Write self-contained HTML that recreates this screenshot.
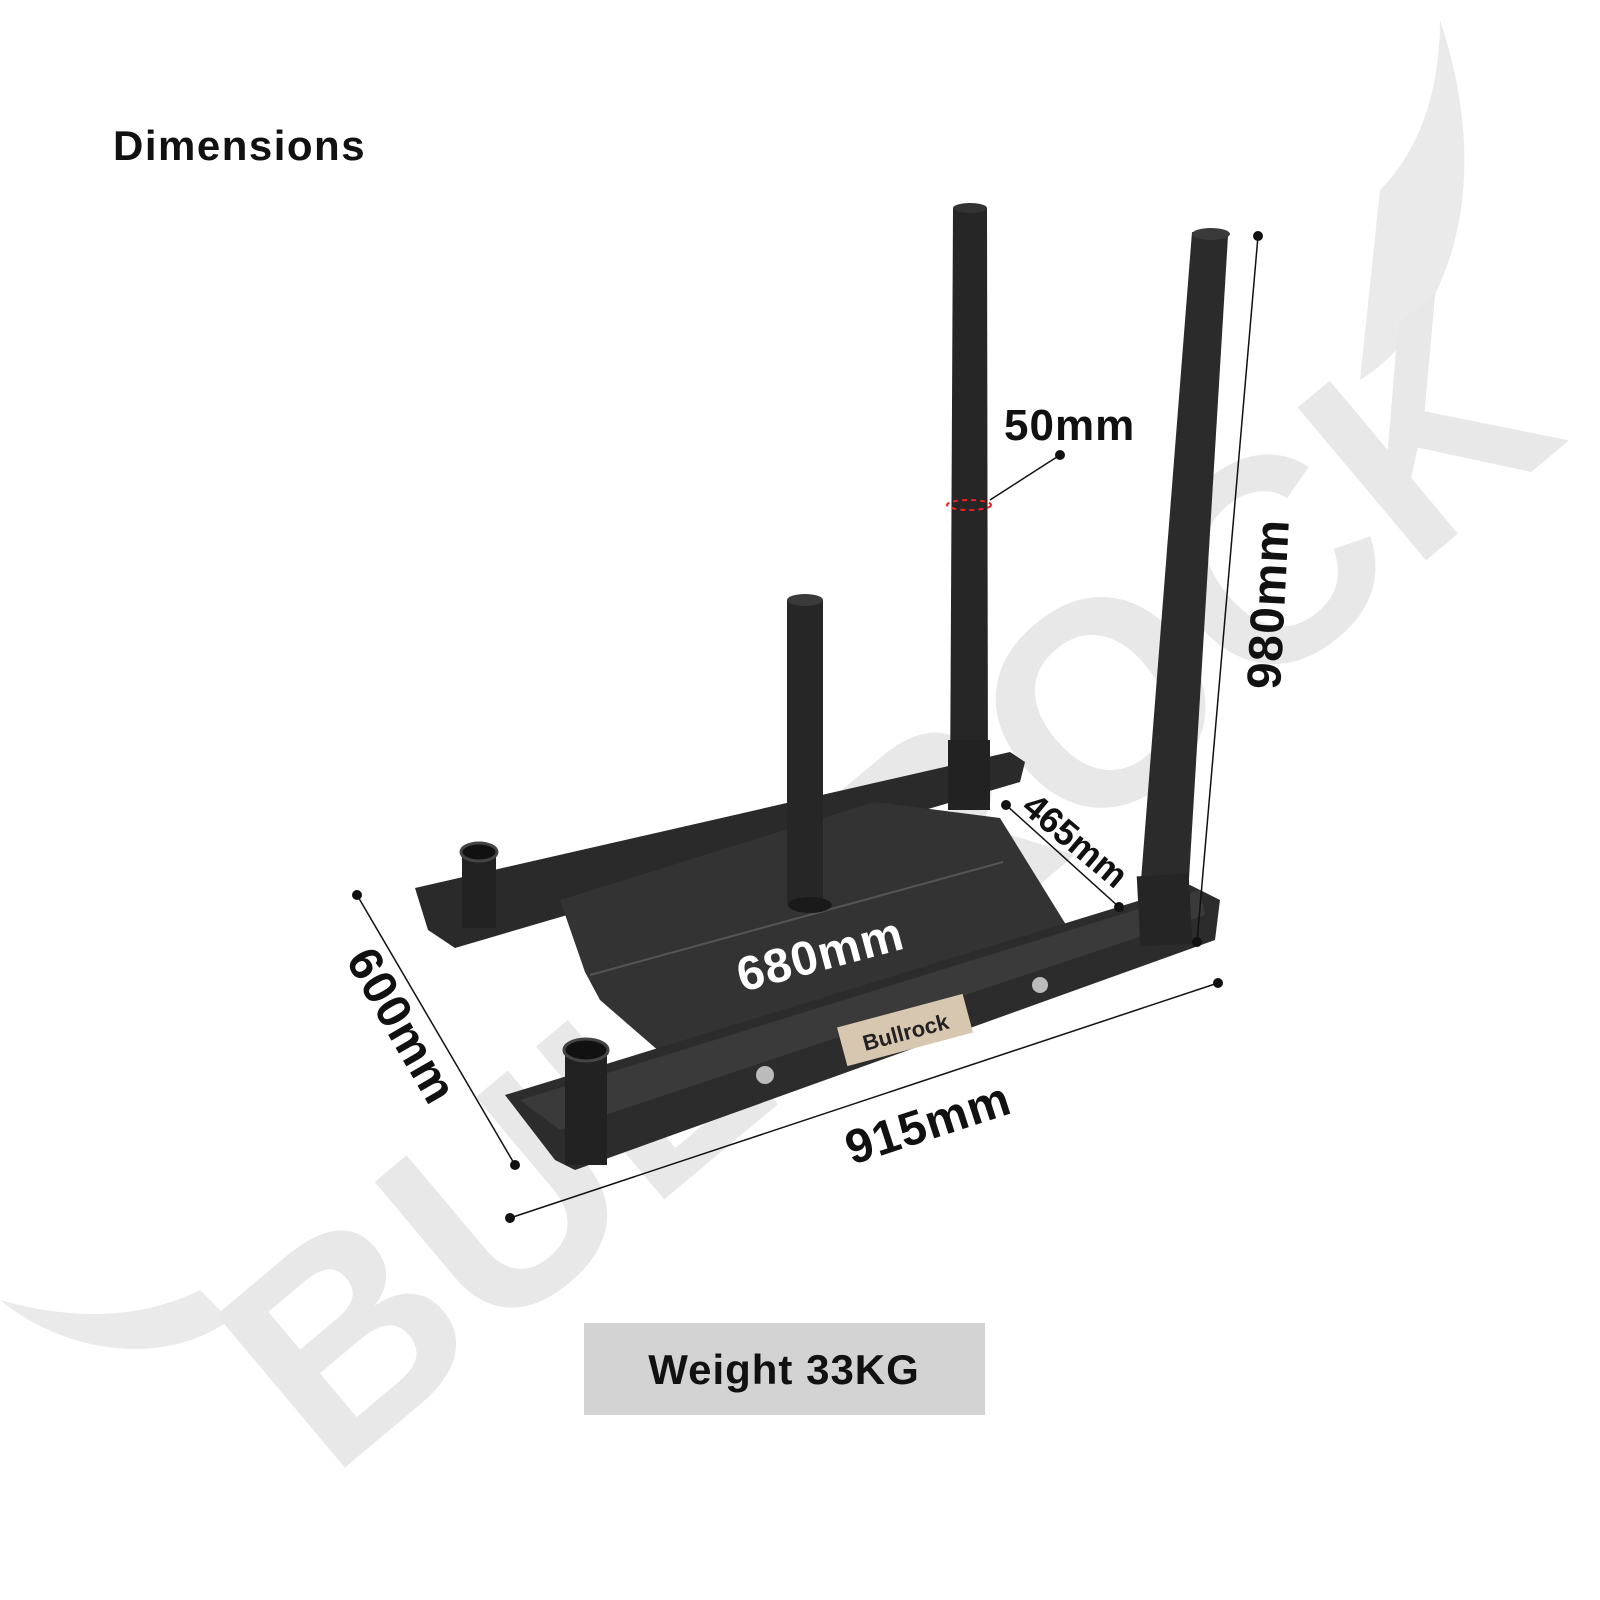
<!DOCTYPE html>
<html><head><meta charset="utf-8"><style>
html,body{margin:0;padding:0;background:#fff;}
svg{display:block}
text{font-family:"Liberation Sans",sans-serif;font-weight:bold}
</style></head><body>
<svg width="1600" height="1600" viewBox="0 0 1600 1600" xmlns="http://www.w3.org/2000/svg">
<!-- watermark -->
<path d="M1440,20 C1500,200 1440,330 1360,380 L1380,190 C1420,150 1440,90 1440,20Z" fill="#eaeaea"/>
<path d="M0,1300 C60,1350 160,1370 230,1320 L200,1290 C140,1320 70,1320 0,1300Z" fill="#eaeaea"/>
<text x="0" y="0" font-size="290" fill="#e8e8e8" transform="translate(330,1480) rotate(-40)" textLength="1620" lengthAdjust="spacingAndGlyphs">BULLROCK</text>
<!-- back rail -->
<polygon points="415,888 1010,752 1025,762 1020,782 455,948 428,930" fill="#2a2a2a"/>
<!-- plate -->
<polygon points="560,900 875,802 1000,818 1068,928 660,1052 600,1000 585,972" fill="#333"/>
<line x1="590" y1="975" x2="1003" y2="862" stroke="#555" stroke-width="2"/>
<!-- back cup -->
<rect x="462" y="848" width="34" height="80" fill="#222"/>
<ellipse cx="479" cy="852" rx="18" ry="9" fill="#111" stroke="#444" stroke-width="3"/>
<!-- middle tall pole -->
<polygon points="953,208 987,208 988,800 950,800" fill="#262626"/>
<rect x="948" y="740" width="42" height="70" fill="#222"/>
<ellipse cx="970" cy="208" rx="17" ry="5" fill="#333"/>
<!-- short pole -->
<polygon points="787,600 823,600 823,905 787,905" fill="#262626"/>
<ellipse cx="805" cy="600" rx="18" ry="6" fill="#3a3a3a"/>
<ellipse cx="810" cy="905" rx="22" ry="8" fill="#1a1a1a"/>
<!-- front rail -->
<polygon points="505,1095 1190,885 1220,900 1215,940 575,1170 555,1160" fill="#2c2c2c"/>
<polygon points="520,1100 1200,890 1205,915 560,1130" fill="#3a3a3a"/>
<!-- right tall pole -->
<polygon points="1192,232 1228,236 1188,895 1140,893" fill="#2b2b2b"/>
<ellipse cx="1211" cy="234" rx="19" ry="6" fill="#3a3a3a"/>
<rect x="1138" y="875" width="52" height="70" fill="#252525" transform="rotate(-3 1164 900)"/>
<!-- front cup -->
<rect x="565" y="1045" width="42" height="120" fill="#222"/>
<ellipse cx="586" cy="1050" rx="22" ry="11" fill="#111" stroke="#444" stroke-width="3"/>
<!-- label plate -->
<g transform="translate(905,1030) rotate(-15)">
<rect x="-65" y="-20" width="130" height="40" fill="#d8c7b0"/>
<text x="0" y="10" font-size="22" text-anchor="middle" fill="#222">Bullrock</text>
</g>
<circle cx="765" cy="1075" r="9" fill="#bbb"/>
<circle cx="1040" cy="985" r="8" fill="#bbb"/>
<!-- dimension lines -->
<g stroke="#111" stroke-width="1.5">
<line x1="357" y1="895" x2="515" y2="1165"/>
<line x1="510" y1="1218" x2="1218" y2="983"/>
<line x1="1258" y1="236" x2="1197" y2="942"/>
<line x1="1006" y1="805" x2="1119" y2="907"/>
<line x1="990" y1="500" x2="1060" y2="455"/>
</g>
<g fill="#111">
<circle cx="357" cy="895" r="5"/><circle cx="515" cy="1165" r="5"/>
<circle cx="510" cy="1218" r="5"/><circle cx="1218" cy="983" r="5"/>
<circle cx="1258" cy="236" r="5"/><circle cx="1197" cy="942" r="5"/>
<circle cx="1006" cy="805" r="5"/><circle cx="1119" cy="907" r="5"/>
<circle cx="1060" cy="455" r="5"/>
</g>
<ellipse cx="969" cy="505" rx="22" ry="5" fill="none" stroke="#e22" stroke-width="2" stroke-dasharray="5,4"/>
<!-- labels -->
<text x="113" y="160" font-size="42" fill="#111" letter-spacing="1.5">Dimensions</text>
<text x="1004" y="440" font-size="44" fill="#111" letter-spacing="1">50mm</text>
<text font-size="48" fill="#111" transform="translate(1280,690) rotate(-87)" letter-spacing="1">980mm</text>
<text font-size="36" fill="#111" transform="translate(1020,810) rotate(40)">465mm</text>
<text font-size="48" fill="#fff" transform="translate(742,992) rotate(-15)" letter-spacing="1">680mm</text>
<text font-size="48" fill="#111" transform="translate(852,1165) rotate(-18)" letter-spacing="1">915mm</text>
<text font-size="48" fill="#111" transform="translate(345,960) rotate(60)" letter-spacing="1">600mm</text>
<rect x="584" y="1323" width="401" height="92" fill="#d3d3d3"/>
<text x="784" y="1384" font-size="42" fill="#111" text-anchor="middle" letter-spacing="1">Weight 33KG</text>
</svg>
</body></html>
